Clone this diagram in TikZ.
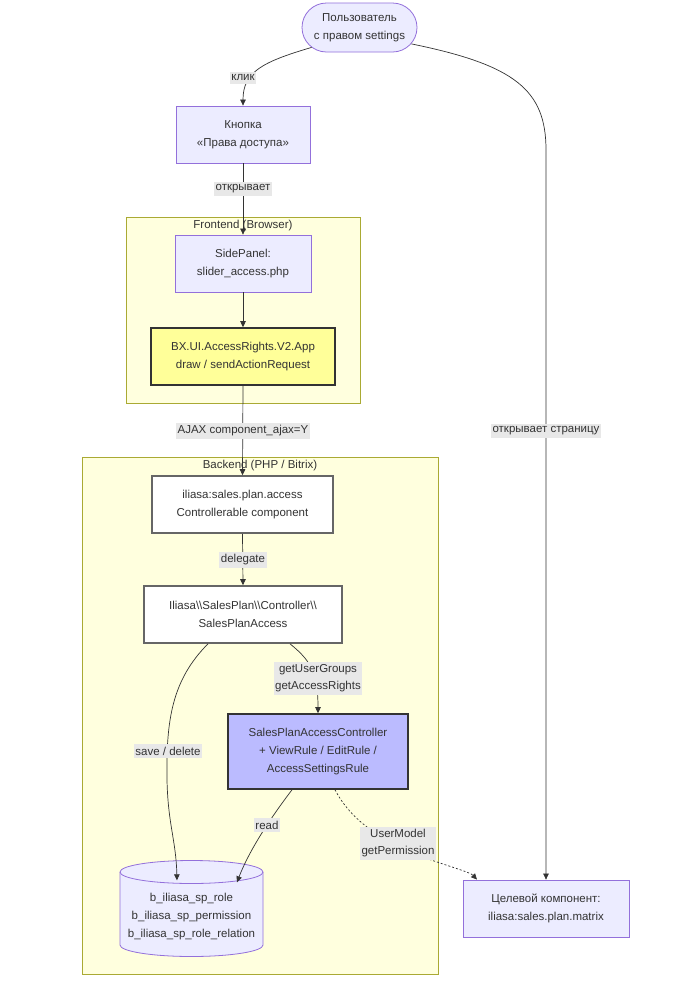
\documentclass[tikz,border=0pt]{standalone}
\usepackage{fontspec}
\setmainfont{Liberation Sans}
\usetikzlibrary{arrows.meta}
\definecolor{nodefill}{HTML}{ECECFF}
\definecolor{nodeborder}{HTML}{9370DB}
\definecolor{clfill}{HTML}{FFFFDE}
\definecolor{clborder}{HTML}{AAAA33}
\definecolor{edgec}{HTML}{333333}
\definecolor{lblfill}{HTML}{E8E8E8}
\definecolor{txt}{HTML}{333333}
\definecolor{appfill}{HTML}{FFFF99}
\definecolor{ctrlfill}{HTML}{BBBBFF}
\definecolor{grayborder}{HTML}{666666}
\begin{document}
\begin{tikzpicture}[x=1pt,y=-1pt,
  every node/.style={font=\fontsize{11.5}{18}\selectfont, text=txt, align=center},
  box/.style={draw=nodeborder, fill=nodefill, line width=0.8pt, inner sep=0pt},
  stadium/.style={box, rounded corners=24.5pt},
  appbox/.style={draw=edgec, fill=appfill, line width=1.6pt, inner sep=0pt},
  whitebox/.style={draw=grayborder, fill=white, line width=1.6pt, inner sep=0pt},
  ctrlbox/.style={draw=edgec, fill=ctrlfill, line width=1.6pt, inner sep=0pt},
  cluster/.style={draw=clborder, fill=clfill, line width=0.8pt, inner sep=0pt},
  edge/.style={draw=edgec, line width=0.7pt, -{Triangle[length=6pt,width=5.5pt]}},
  dottededge/.style={edge, dash pattern=on 2pt off 2pt},
  lbl/.style={fill=lblfill, inner xsep=1.5pt, inner ysep=2.5pt, font=\fontsize{11.5}{17}\selectfont},
  cltitle/.style={inner sep=0pt}
]
\useasboundingbox[fill=white] (0,0) rectangle (678,986);

% clusters
\node[cluster, minimum width=234pt, minimum height=186pt] (fe) at (243,310) {};
\node[cltitle] (fetitle) at (243,225.5) {Frontend (Browser)};
\node[cluster, minimum width=356pt, minimum height=517pt] (be) at (260,715.5) {};
\node[cltitle] (betitle) at (260,465.5) {Backend (PHP / Bitrix)};

% nodes
\node[stadium, minimum width=115pt, minimum height=49pt] (user) at (359.5,27.5) {Пользователь\\с правом settings};
\node[box, minimum width=134pt, minimum height=57pt] (btn) at (243,134.5) {Кнопка\\«Права доступа»};
\node[box, minimum width=136pt, minimum height=57pt] (side) at (243,263.5) {SidePanel:\\slider\_access.php};
\node[appbox, minimum width=184pt, minimum height=57pt] (app) at (243,356.5) {BX.UI.AccessRights.V2.App\\draw / sendActionRequest};
\node[whitebox, minimum width=181pt, minimum height=57pt] (acc) at (242.5,504.5) {iliasa:sales.plan.access\\Controllerable component};
\node[whitebox, minimum width=198pt, minimum height=57pt] (ctl) at (243,614.5) {Iliasa\textbackslash\textbackslash SalesPlan\textbackslash\textbackslash Controller\textbackslash\textbackslash\\SalesPlanAccess};
\node[ctrlbox, minimum width=180pt, minimum height=75pt] (spac) at (318,751.5) {SalesPlanAccessController\\+ ViewRule / EditRule /\\AccessSettingsRule};
\node[box, minimum width=166pt, minimum height=57pt] (target) at (546,908.5) {Целевой компонент:\\iliasa:sales.plan.matrix};

% cylinder
\path[fill=nodefill, draw=nodeborder, line width=0.8pt]
  (120,872) -- (120,945) arc[start angle=180, end angle=360, x radius=71.5pt, y radius=11.5pt]
  -- (263,872) arc[start angle=0, end angle=180, x radius=71.5pt, y radius=11.5pt] -- cycle;
\draw[draw=nodeborder, line width=0.8pt] (120,872) arc[start angle=180, end angle=360, x radius=71.5pt, y radius=11.5pt];
\node[inner sep=0pt, minimum width=143pt, minimum height=97pt] (db) at (191.5,916.5) {b\_iliasa\_sp\_role\\b\_iliasa\_sp\_permission\\b\_iliasa\_sp\_role\_relation};
\coordinate (dbA) at ([xshift=-14.5pt, yshift=-12.5pt]db.north);
\coordinate (dbB) at ([xshift=45.5pt, yshift=-14.5pt]db.north);

% edges
\draw[edge] ([xshift=10pt,yshift=5pt]user.south west) .. controls (262,62) and (243,72) .. (btn.north);
\draw[edge] ([xshift=-6pt,yshift=8.5pt]user.south east) .. controls (515,65) and (546,90) .. (546,150) -- (target.north);
\draw[edge] (btn.south) -- (side.north);
\draw[edge] (side.south) -- (app.north);
\draw[edge] (app.south) -- (acc.north);
\draw[edge] (acc.south) -- (ctl.north);
\draw[edge] ([xshift=-35pt]ctl.south) .. controls (172,680) and (166,720) .. (167,780) .. controls (168,825) and (176,840) .. (dbA);
\draw[edge] ([xshift=47pt]ctl.south) .. controls (310,660) and (318,672) .. (spac.north);
\draw[edge] ([xshift=-26pt]spac.south) .. controls (282,803) and (252,843) .. (dbB);
\draw[dottededge] ([xshift=17pt]spac.south) .. controls (352,822) and (382,840) .. (420,856) .. controls (450,867) and (470,872) .. ([xshift=-69pt]target.north);

% labels
\node[lbl] (l1) at (243,78) {клик};
\node[lbl] (l2) at (243,189) {открывает};
\node[lbl] (l3) at (243,431) {AJAX component\_ajax=Y};
\node[lbl] (l4) at (546,431) {открывает страницу};
\node[lbl] (l5) at (243,560) {delegate};
\node[lbl] (l6) at (318,678.5) {getUserGroups\\getAccessRights};
\node[lbl] (l7) at (168,751) {save / delete};
\node[lbl] (l8) at (267,825) {read};
\node[lbl] (l9) at (398,843.5) {UserModel\\getPermission};
\end{tikzpicture}
\end{document}
